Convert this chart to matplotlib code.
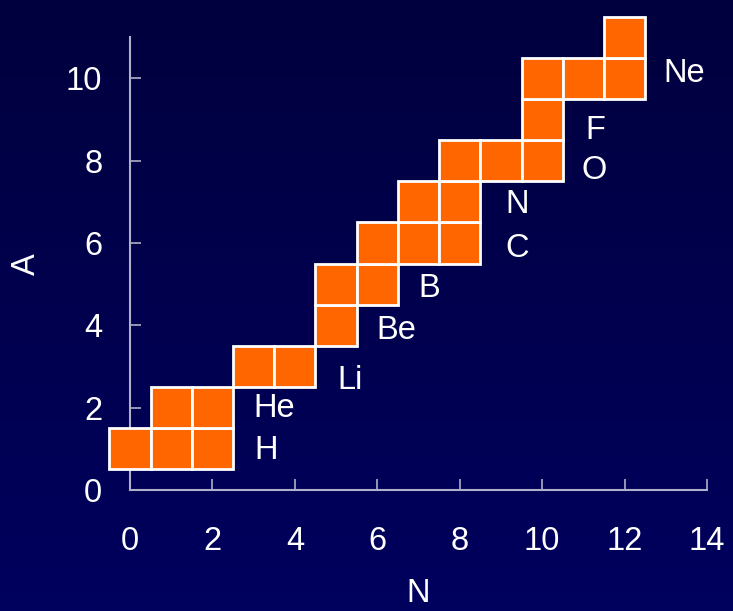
import numpy as np
import matplotlib
matplotlib.use('Agg')
import matplotlib.pyplot as plt
from matplotlib.patches import Rectangle

# nuclide chart: neutron number N vs mass number A
n_vals = [0, 1, 2, 1, 2, 3, 4, 5, 5, 6, 6, 7, 8, 7, 8, 8, 9, 10, 10, 10, 11, 12, 12]
a_vals = [1, 1, 1, 2, 2, 3, 3, 4, 5, 5, 6, 6, 6, 7, 7, 8, 8, 8, 9, 10, 10, 10, 11]

elements = ['H', 'He', 'Li', 'Be', 'B', 'C', 'N', 'O', 'F', 'Ne']
label_x = [3.3, 3.5, 5.35, 6.45, 7.25, 9.4, 9.4, 11.25, 11.3, 13.45]
label_y = [0.97, 1.99, 2.67, 3.88, 4.9, 5.87, 6.94, 7.77, 8.74, 10.12]

plt.rcParams['font.family'] = ['Liberation Sans', 'DejaVu Sans']

fig = plt.figure(figsize=(7.33, 6.11), dpi=100)

# background gradient
bg = fig.add_axes([0, 0, 1, 1])
grad = np.linspace(0, 1, 256).reshape(-1, 1)
bg.imshow(grad, aspect='auto', extent=[0, 1, 0, 1],
          cmap=matplotlib.colors.LinearSegmentedColormap.from_list('bg', ['#00003e', '#00005e']))
bg.axis('off')

ax = fig.add_axes([0.1774, 0.198, 0.7871, 0.741])
ax.patch.set_alpha(0)
ax.set_xlim(0, 14)
ax.set_ylim(0, 11)

for n, a in zip(n_vals, a_vals):
  ax.add_patch(Rectangle((n - 0.5, a - 0.5), 1, 1, facecolor='#ff6600',
                         edgecolor='white', lw=2, clip_on=False, zorder=3))

for name, x, y in zip(elements, label_x, label_y):
  ax.text(x, y, name, color='white', fontsize=23.5, ha='center', va='center')

for s in ['top', 'right']:
  ax.spines[s].set_visible(False)
for s in ['left', 'bottom']:
  ax.spines[s].set_color('#b0b0c8')
  ax.spines[s].set_linewidth(1.5)

ax.set_xticks(range(0, 15, 2))
ax.set_yticks(range(0, 11, 2))
ax.tick_params(direction='in', length=8, width=1.2, color='#b0b0c8',
               labelcolor='white', labelsize=23.5)
ax.tick_params(axis='x', pad=26)
ax.tick_params(axis='y', pad=20)

ax.set_xlabel('N', color='white', fontsize=23.5, labelpad=15)
ax.set_ylabel('A', color='white', fontsize=23.5, labelpad=17)

fig.savefig('out.png', dpi=100)
